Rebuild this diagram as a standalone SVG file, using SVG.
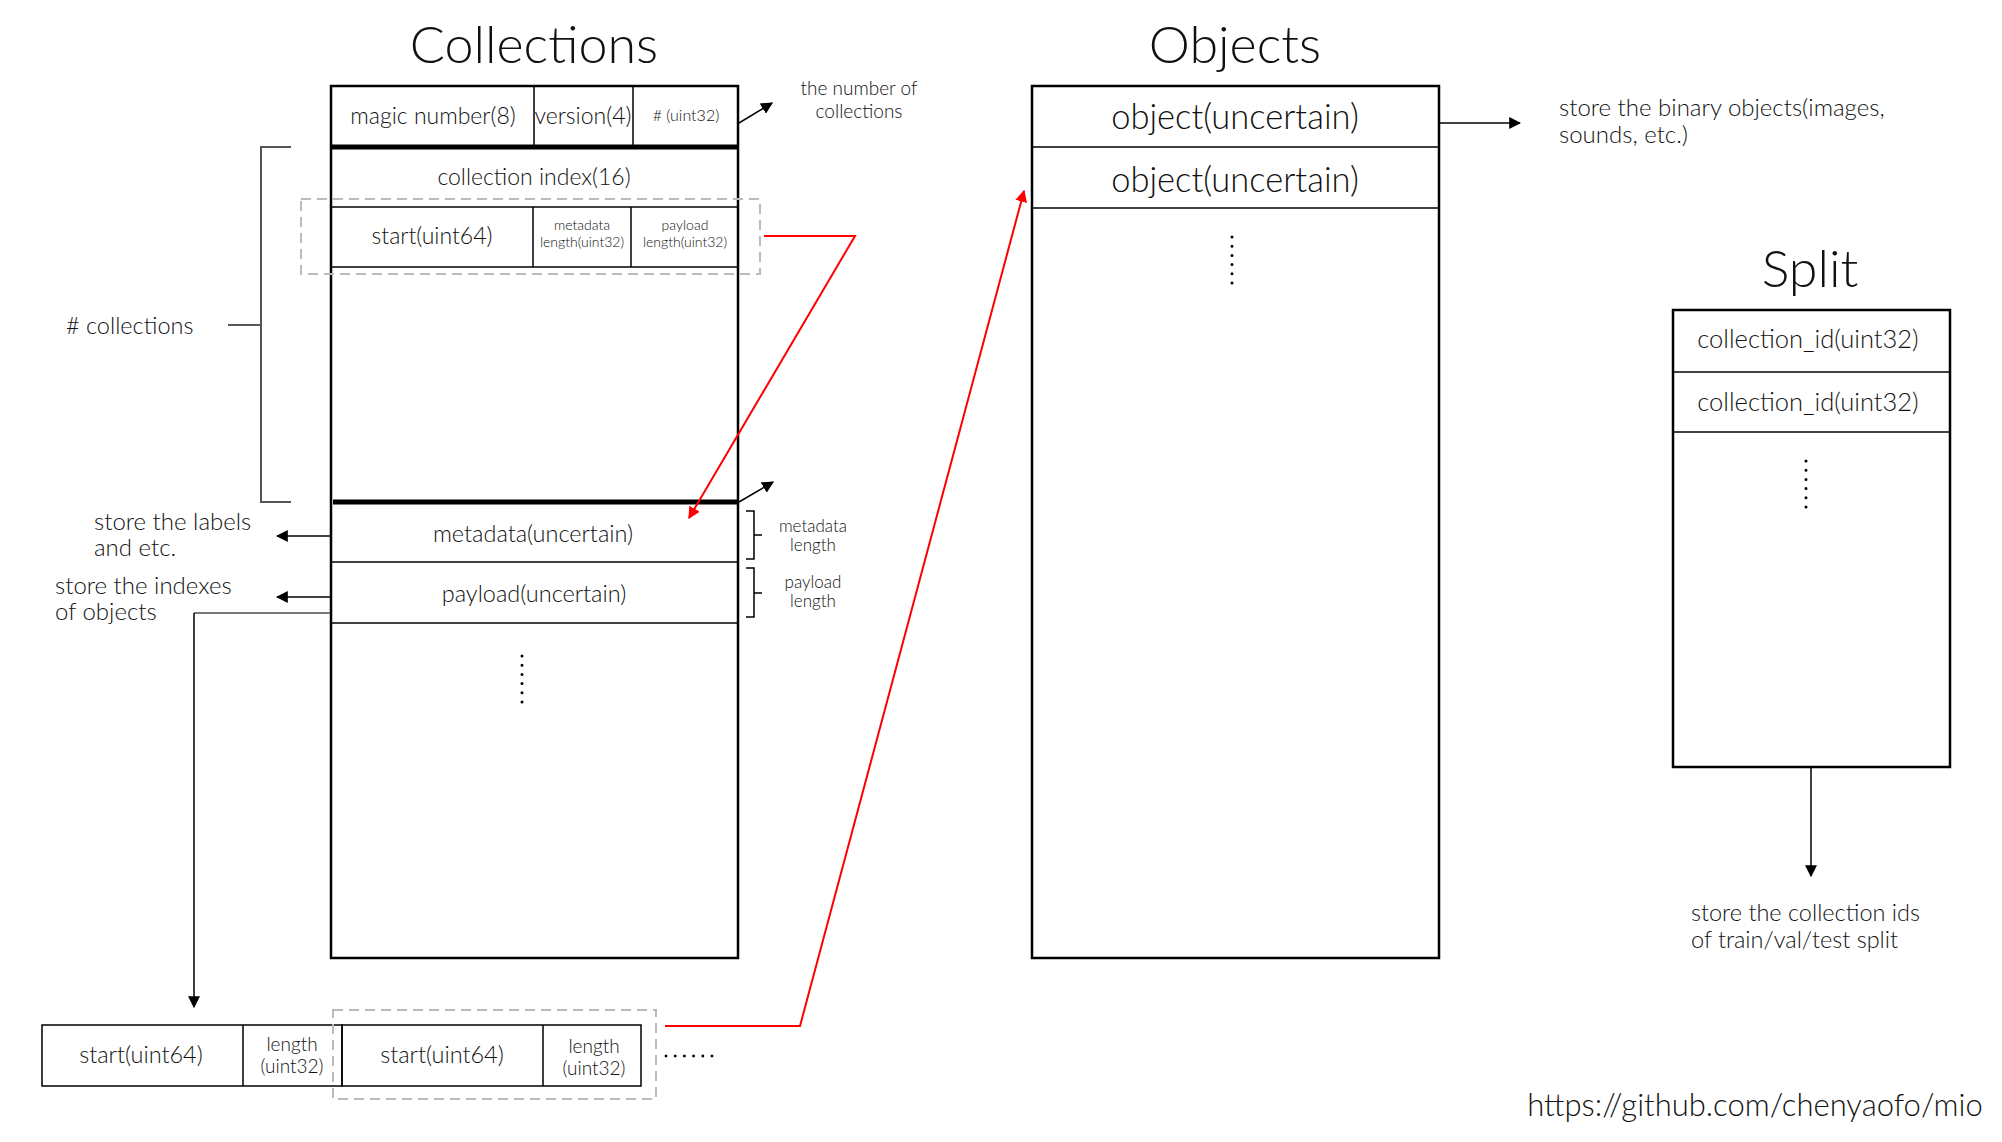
<svg xmlns="http://www.w3.org/2000/svg" width="2002" height="1142" viewBox="0 0 2002 1142">
<style>
.t{font-family:Lato,"Open Sans","Liberation Sans",sans-serif;font-weight:300;fill:#111;text-anchor:middle;dominant-baseline:central}
.l{text-anchor:start}
.box{fill:none;stroke:#000;stroke-width:2.5}
.ln{stroke:#000;stroke-width:1.5;fill:none}
.thick{stroke:#000;stroke-width:5}
.dash{fill:none;stroke:#bbb;stroke-width:2;stroke-dasharray:10 6}
.dots{stroke:#000;stroke-width:3;stroke-linecap:round;stroke-dasharray:0 9.2}
.red{fill:none;stroke:#f00;stroke-width:2}
.blk{fill:none;stroke:#000;stroke-width:1.5}
.gry{fill:none;stroke:#555;stroke-width:2}
</style>
<defs>
<marker id="ab2" viewBox="0 0 10 10" refX="9" refY="5" markerWidth="12" markerHeight="12" markerUnits="userSpaceOnUse" orient="auto"><path d="M0,0L10,5L0,10z" fill="#000"/></marker>
<marker id="ar" viewBox="0 0 10 10" refX="9" refY="5" markerWidth="12" markerHeight="12" markerUnits="userSpaceOnUse" orient="auto"><path d="M0,0L10,5L0,10z" fill="#f00"/></marker>
</defs>
<rect width="2002" height="1142" fill="#fff"/>

<g id="titles">
<text class="t" x="534" y="43" font-size="52">Collections</text>
<text class="t" x="1235" y="43" font-size="52">Objects</text>
<text class="t" x="1810" y="267" font-size="52">Split</text>
</g>

<g id="collections">
<rect class="box" x="331" y="86" width="407" height="872"/>
<line class="ln" x1="534" y1="86" x2="534" y2="147"/>
<line class="ln" x1="633" y1="86" x2="633" y2="147"/>
<line class="thick" x1="331" y1="147" x2="738" y2="147"/>
<text class="t" x="433" y="115" font-size="23">magic number(8)</text>
<text class="t" x="583" y="115" font-size="23">version(4)</text>
<text class="t" x="686" y="114" font-size="16">#  (uint32)</text>
<text class="t" x="534" y="176" font-size="23">collection index(16)</text>
<line class="ln" x1="331" y1="207" x2="738" y2="207"/>
<line class="ln" x1="331" y1="267" x2="738" y2="267"/>
<line class="ln" x1="533" y1="207" x2="533" y2="267"/>
<line class="ln" x1="631" y1="207" x2="631" y2="267"/>
<text class="t" x="432" y="235" font-size="23">start(uint64)</text>
<text class="t" x="582" y="224" font-size="14">metadata</text>
<text class="t" x="582" y="241" font-size="14">length(uint32)</text>
<text class="t" x="685" y="224" font-size="14">payload</text>
<text class="t" x="685" y="241" font-size="14">length(uint32)</text>
<line class="thick" x1="333" y1="502" x2="738" y2="502"/>
<text class="t" x="533" y="533" font-size="23.5">metadata(uncertain)</text>
<line class="ln" x1="331" y1="562" x2="738" y2="562"/>
<text class="t" x="534" y="593" font-size="23.5">payload(uncertain)</text>
<line class="ln" x1="331" y1="623" x2="738" y2="623"/>
<line class="dots" x1="522" y1="656" x2="522" y2="704"/>
<rect class="dash" x="301" y="199" width="459" height="75"/>
</g>

<g id="collections-annotations">
<path class="gry" d="M291,147H261V502H291M228,325H261"/>
<text class="t l" x="66" y="325" font-size="23.5">#  collections</text>
<text class="t" x="859" y="87" font-size="19">the number of</text>
<text class="t" x="859" y="110" font-size="19">collections</text>
<path class="blk" d="M746,511H754V559H746M754,535H762"/>
<path class="blk" d="M746,568H754V617H746M754,593H762"/>
<text class="t" x="813" y="525" font-size="17">metadata</text>
<text class="t" x="813" y="544" font-size="17">length</text>
<text class="t" x="813" y="581" font-size="17">payload</text>
<text class="t" x="813" y="600" font-size="17">length</text>
<text class="t l" x="94" y="520" font-size="24">store the labels</text>
<text class="t l" x="94" y="546" font-size="24">and etc.</text>
<text class="t l" x="55" y="584" font-size="24">store the indexes</text>
<text class="t l" x="55" y="610" font-size="24">of objects</text>
</g>

<g id="objects">
<rect class="box" x="1032" y="86" width="407" height="872"/>
<line class="ln" x1="1032" y1="147" x2="1439" y2="147"/>
<line class="ln" x1="1032" y1="208" x2="1439" y2="208"/>
<text class="t" x="1235" y="115" font-size="34.5">object(uncertain)</text>
<text class="t" x="1235" y="178" font-size="34.5">object(uncertain)</text>
<line class="dots" x1="1232" y1="237" x2="1232" y2="285"/>
<text class="t l" x="1559" y="106" font-size="24">store the binary objects(images,</text>
<text class="t l" x="1559" y="133" font-size="24">sounds, etc.)</text>
</g>

<g id="split">
<rect class="box" x="1673" y="310" width="277" height="457"/>
<line class="ln" x1="1673" y1="372" x2="1950" y2="372"/>
<line class="ln" x1="1673" y1="432" x2="1950" y2="432"/>
<text class="t" x="1808" y="338" font-size="25.5">collection_id(uint32)</text>
<text class="t" x="1808" y="401" font-size="25.5">collection_id(uint32)</text>
<line class="dots" x1="1806" y1="461" x2="1806" y2="509"/>
<text class="t l" x="1691" y="912" font-size="23.5">store the collection ids</text>
<text class="t l" x="1691" y="939" font-size="23.5">of train/val/test split</text>
</g>

<g id="index-row">
<rect class="ln" x="42" y="1025" width="300" height="61"/>
<rect class="ln" x="342" y="1025" width="299" height="61"/>
<line class="ln" x1="243" y1="1025" x2="243" y2="1086"/>
<line class="ln" x1="543" y1="1025" x2="543" y2="1086"/>
<text class="t" x="141" y="1054" font-size="23.5">start(uint64)</text>
<text class="t" x="292" y="1043" font-size="19">length</text>
<text class="t" x="292" y="1065" font-size="19">(uint32)</text>
<text class="t" x="442" y="1054" font-size="23.5">start(uint64)</text>
<text class="t" x="594" y="1045" font-size="19">length</text>
<text class="t" x="594" y="1067" font-size="19">(uint32)</text>
<rect class="dash" x="333" y="1010" width="323" height="89"/>
<line class="dots" x1="666" y1="1056" x2="712" y2="1056" style="stroke-linecap:square;stroke-width:2.5"/>
</g>

<g id="url">
<text class="t" x="1755" y="1104" font-size="31">https://github.com/chenyaofo/mio</text>
</g>

<g id="connectors">
<polyline class="red" points="764,236 855,236 689,518" marker-end="url(#ar)"/>
<polyline class="red" points="665,1026 800,1026 1024,191" marker-end="url(#ar)"/>
<line class="blk" x1="739" y1="123" x2="772" y2="103" marker-end="url(#ab2)"/>
<line class="blk" x1="739" y1="502" x2="773" y2="482" marker-end="url(#ab2)"/>
<line class="blk" x1="330" y1="536" x2="277" y2="536" marker-end="url(#ab2)"/>
<line class="blk" x1="330" y1="597" x2="277" y2="597" marker-end="url(#ab2)"/>
<path class="gry" d="M330,613H194" style="stroke:#777"/>
<line class="blk" x1="194" y1="613" x2="194" y2="1007" marker-end="url(#ab2)"/>
<line class="blk" x1="1439" y1="123" x2="1520" y2="123" marker-end="url(#ab2)"/>
<line class="blk" x1="1811" y1="767" x2="1811" y2="876" marker-end="url(#ab2)"/>
</g>
</svg>
